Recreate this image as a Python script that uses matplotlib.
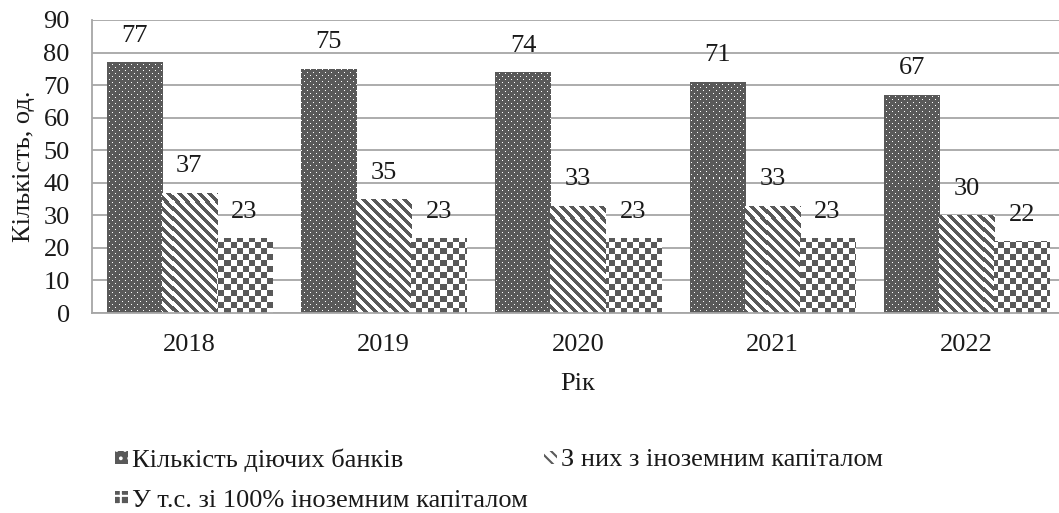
import numpy as np
import matplotlib
matplotlib.use("Agg")
import matplotlib.pyplot as plt

plt.rcParams['font.family'] = ['Liberation Serif']
plt.rcParams['hatch.linewidth'] = 1.5

years = ['2018', '2019', '2020', '2021', '2022']
total_banks = [77, 75, 74, 71, 67]
foreign_capital = [37, 35, 33, 33, 30]
full_foreign = [23, 23, 23, 23, 22]

series_names = ['Кількість діючих банків',
                'З них з іноземним капіталом',
                'У т.с. зі 100% іноземним капіталом']

DARK = '#595959'
GRID = '#a6a6a6'
TEXT = '#1a1a1a'
FS = 19

W_PX, H_PX = 1059, 513
fig = plt.figure(figsize=(W_PX / 100, H_PX / 100), dpi=100)
ax_left, ax_bottom, ax_w, ax_h = 92, 200, 972, 293
ax = fig.add_axes([ax_left / W_PX, ax_bottom / H_PX, ax_w / W_PX, ax_h / H_PX])

x = np.arange(len(years))
width = 0.283
offsets = [-width, 0, width]

# pixel textures for the three fills
rr, cc = np.mgrid[0:ax_h, 0:ax_w]


def rgba(mask_dark):
    img = np.ones((ax_h, ax_w, 4))
    d = np.array(matplotlib.colors.to_rgb(DARK))
    img[mask_dark, :3] = d
    return img


dots_light = (((rr % 6) == 2) & ((cc % 6) == 2)) | (((rr % 6) == 5) & ((cc % 6) == 5))
tex_dots = rgba(~dots_light)
tex_stripes = rgba(((cc - rr) % 10) < 5)
tex_checker = rgba(((rr // 6) + (cc // 6)) % 2 == 0)
textures = [tex_dots, tex_stripes, tex_checker]

styles = [dict(facecolor=DARK, edgecolor='white', hatch='..'),
          dict(facecolor='white', edgecolor=DARK, hatch='\\\\\\'),
          dict(facecolor=DARK, edgecolor='white', hatch='++')]

ax.set_xlim(-0.5, len(years) - 0.5)
ax.set_ylim(0, 90)

handles = []
for vals, off, st, tex, name in zip([total_banks, foreign_capital, full_foreign],
                                     offsets, styles, textures, series_names):
    bars = ax.bar(x + off, vals, width, linewidth=0, label=name, zorder=2, **st)
    handles.append(bars)
    for b, v in zip(bars, vals):
        im = ax.imshow(tex, extent=(-0.5, len(years) - 0.5, 0, 90), aspect='auto',
                       interpolation='nearest', origin='upper', zorder=2.5)
        im.set_clip_path(b)
        ax.annotate(f'{v}', (b.get_x() + b.get_width() / 2, v),
                    xytext=(0, 19), textcoords='offset points',
                    ha='center', va='center', fontsize=FS, color=TEXT, zorder=4)

ax.set_xlim(-0.5, len(years) - 0.5)
ax.set_ylim(0, 90)
ax.set_yticks(np.arange(0, 91, 10))
ax.set_xticks(x)
ax.set_xticklabels(years)
ax.set_axisbelow(True)
ax.grid(axis='y', color=GRID, linewidth=1.3, zorder=0)
for s in ['top', 'right']:
    ax.spines[s].set_visible(False)
for s in ['left', 'bottom']:
    ax.spines[s].set_color(GRID)
    ax.spines[s].set_linewidth(1.3)
ax.tick_params(axis='both', length=0, labelsize=FS, colors=TEXT)
ax.tick_params(axis='y', pad=16)
ax.tick_params(axis='x', pad=15)
ax.set_xlabel('Рік', fontsize=FS, color=TEXT, labelpad=12)
ax.set_ylabel('Кількість, од.', fontsize=FS, color=TEXT, labelpad=6)

leg = fig.legend([handles[0], handles[2], handles[1]],
                 [series_names[0], series_names[2], series_names[1]],
                 ncol=2, loc='upper left', bbox_to_anchor=(115 / W_PX, 1 - 448 / H_PX),
                 frameon=False, fontsize=FS, handlelength=0.5, handleheight=0.38,
                 handletextpad=0.15, labelspacing=0.7, columnspacing=0.6,
                 borderpad=0, borderaxespad=0)
for t in leg.get_texts():
    t.set_color(TEXT)

fig.savefig('out.png', dpi=100)
